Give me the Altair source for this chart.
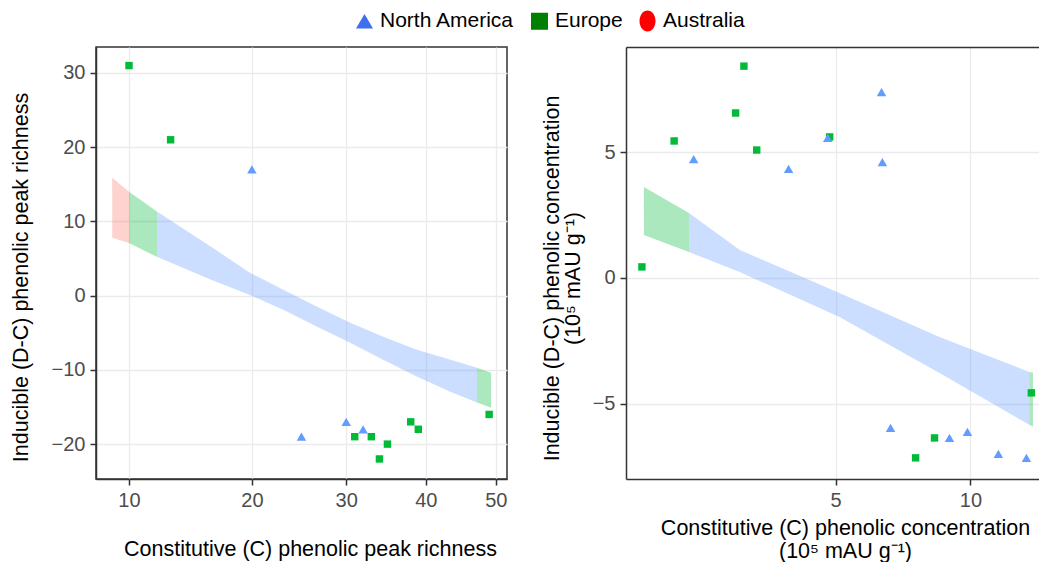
import altair as alt
import pandas as pd

# ---------------- data ----------------
regions = ["North America", "Europe", "Australia"]
legend_colors = ["#3D6FEE", "#008000", "#FF0000"]
ellipse = "M -0.94,0 A 0.94,1.24 0 1,1 0.94,0 A 0.94,1.24 0 1,1 -0.94,0 Z"
legend_shapes = ["triangle-up", "square", ellipse]
band_regions = ["Australia", "Europe", "North America"]
band_colors = ["#F8766D", "#00BA38", "#619CFF"]

# Left panel: peak richness
left_eu_x = [10, 13, 31, 33, 34, 35, 38, 39, 49]
left_eu_y = [31, 21, -19, -19, -22, -20, -17, -18, -16]
left_na_x = [20, 25, 30, 32]
left_na_y = [17, -19, -17, -18]

left_band_x = [8.9, 10, 12, 16.2, 19.8, 23.1, 26.7, 30.4, 34.4, 38.8, 43.3, 47.2, 49.3]
left_band_hi = [15.9, 14.0, 11.3, 6.7, 3.1, 0.8, -1.5, -3.6, -5.5, -7.3, -8.6, -9.7, -10.4]
left_band_lo = [7.8, 7.1, 5.2, 2.2, 0.1, -1.9, -4.2, -6.3, -8.6, -10.9, -12.9, -14.4, -15.1]
left_seg_breaks = [8.9, 10, 12, 47.2, 49.3]
left_seg_names = ["Australia", "Europe", "North America", "Europe"]

# Right panel: concentration
right_eu_x = [0.82, 1.27, 2.40, 2.58, 2.87, 4.82, 7.76, 8.50, 12.82]
right_eu_y = [0.44, 5.44, 6.55, 8.41, 5.08, 5.6, -7.14, -6.35, -4.56]
right_na_x = [1.59, 3.66, 4.76, 6.51, 6.54, 6.83, 9.11, 9.87, 11.25, 12.58]
right_na_y = [4.72, 4.33, 5.56, 7.38, 4.60, -5.95, -6.35, -6.11, -6.98, -7.14]

right_band_x = [0.845, 1.51, 2.49, 5.12, 8.70, 12.72, 12.9]
right_band_hi = [3.61, 2.58, 1.11, -0.6, -2.34, -3.73, -3.75]
right_band_lo = [1.71, 1.03, 0.24, -1.55, -3.77, -5.83, -5.9]
right_seg_breaks = [0.845, 1.51, 12.72, 12.9]
right_seg_names = ["Europe", "North America", "Europe"]


def band_frame(xs, hi, lo, breaks, names):
    rows = []
    for i, name in enumerate(names):
        a, b = breaks[i], breaks[i + 1]
        for x, h, l in zip(xs, hi, lo):
            if a - 1e-9 <= x <= b + 1e-9:
                rows.append({"x": x, "hi": h, "lo": l, "region": name, "seg": i})
    return pd.DataFrame(rows)


FONT = "Liberation Sans"
fill_scale = alt.Scale(domain=band_regions, range=band_colors)


def panel(eu_x, eu_y, na_x, na_y, band_df, xdom, ydom, xticks, yticks,
          width, xtitle, ytitle, xtitle_x, ytitle_y, xtp, ytp, with_legend, right=False):
    xs = alt.Scale(type="sqrt", domain=xdom, zero=False, nice=False)
    ys = alt.Scale(domain=ydom, zero=False, nice=False)
    xaxis = alt.Axis(values=xticks, title=xtitle, titleX=xtitle_x, titlePadding=xtp,
                     titleAlign="center", grid=True, titleLineHeight=23)
    yaxis = alt.Axis(values=yticks, title=ytitle, titleY=ytitle_y, titlePadding=ytp,
                     titleLineHeight=20.5)
    topaxis = alt.Axis(orient="top", labels=False, ticks=False, grid=False,
                       title=None, domain=True)

    band = alt.Chart(band_df).mark_area(opacity=0.33, line=False).encode(
        x=alt.X("x:Q", scale=xs, axis=xaxis),
        y=alt.Y("hi:Q", scale=ys, axis=yaxis),
        y2="lo:Q",
        fill=alt.Fill("region:N", scale=fill_scale, legend=None),
        detail="seg:N",
    )
    eu_df = pd.DataFrame({"x": eu_x, "y": eu_y, "region": "Europe"})
    na_df = pd.DataFrame({"x": na_x, "y": na_y, "region": "North America"})
    eu = alt.Chart(eu_df).mark_point(
        shape="square", filled=True, size=55, color="#00BA38", opacity=1
    ).encode(x=alt.X("x:Q", scale=xs, axis=(None if right else xaxis)),
             y=alt.Y("y:Q", scale=ys, axis=yaxis))
    na = alt.Chart(na_df).mark_point(
        shape="triangle-up", filled=True, size=90, color="#619CFF", opacity=1
    ).encode(x=alt.X("x:Q", scale=xs, axis=(topaxis if right else xaxis)),
             y=alt.Y("y:Q", scale=ys, axis=yaxis))
    layers = [band]
    if with_legend:
        # tiny marks hidden under the real points; they only supply the region legend
        leg_def = dict(title=None, orient="none", direction="horizontal",
                       legendX=258, legendY=-37)
        leg = alt.Chart(pd.concat([eu_df, na_df])).mark_point(
            filled=True, opacity=1, size=8
        ).encode(
            x=alt.X("x:Q", scale=xs, axis=xaxis),
            y=alt.Y("y:Q", scale=ys, axis=yaxis),
            color=alt.Color("region:N", scale=alt.Scale(domain=regions, range=legend_colors),
                            legend=alt.Legend(**leg_def)),
            shape=alt.Shape("region:N", scale=alt.Scale(domain=regions, range=legend_shapes),
                            legend=alt.Legend(**leg_def)),
        )
        layers.append(leg)
    layers += [eu, na]
    view = (alt.ViewBackground(stroke=None) if right
            else alt.ViewBackground(stroke="#333333", strokeWidth=1.5))
    ch = alt.layer(*layers).properties(width=width, height=432, view=view)
    if right:
        ch = ch.resolve_axis(x="independent")
    return ch


left = panel(left_eu_x, left_eu_y, left_na_x, left_na_y,
             band_frame(left_band_x, left_band_hi, left_band_lo, left_seg_breaks, left_seg_names),
             [7.9, 51.7], [-24.7, 33.5], [10, 20, 30, 40, 50], [-20, -10, 0, 10, 20, 30],
             411, "Constitutive (C) phenolic peak richness",
             "Inducible (D-C) phenolic peak  richness", 214, 230, 28, 19, True)

right = panel(right_eu_x, right_eu_y, right_na_x, right_na_y,
              band_frame(right_band_x, right_band_hi, right_band_lo, right_seg_breaks, right_seg_names),
              [0.634, 13.2], [-7.98, 9.17], [5, 10], [-5, 0, 5],
              413, ["Constitutive (C) phenolic concentration", "(10\u2075 mAU g\u207b\u00b9)"],
              ["Inducible (D-C) phenolic concentration", "(10\u2075 mAU g\u207b\u00b9)"],
              219, 231, 7, 8, False, right=True)

chart = alt.hconcat(left, right, spacing=33).properties(
    padding={"left": 9, "top": 10, "right": 0, "bottom": 0}
).configure(font=FONT).configure_axis(
    labelColor="#4D4D4D", labelFontSize=20, labelFont=FONT,
    titleFontSize=21.5, titleColor="black", titleFontWeight="normal", titleFont=FONT,
    tickColor="#333333", tickSize=6, tickWidth=1.5,
    domainColor="#333333", domainWidth=1.5,
    gridColor="#EBEBEB", gridWidth=1.3, labelPadding=5,
).configure_legend(
    labelFontSize=21, labelFont=FONT, labelColor="black", symbolSize=290,
    columnPadding=14, symbolStrokeWidth=0, labelOffset=5,
)

chart.save("out.html", embed_options={"renderer": "svg", "actions": False})
